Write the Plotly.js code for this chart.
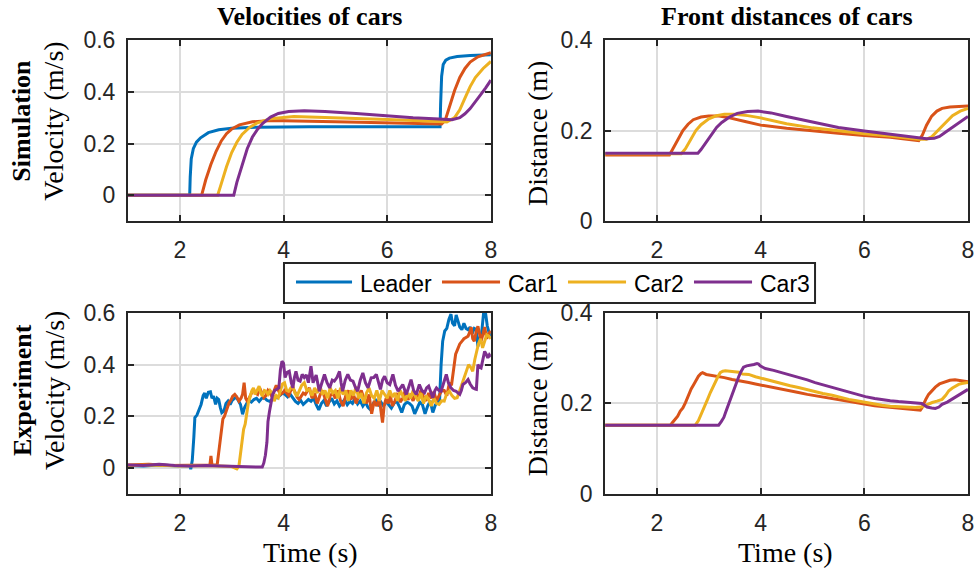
<!DOCTYPE html>
<html>
<head>
<meta charset="utf-8">
<script src="https://cdn.plot.ly/plotly-3.0.1.min.js"></script>
<style>html,body{margin:0;padding:0;background:#fff;}#chart{width:976px;height:578px;}</style>
</head>
<body>
<div id="chart"></div>
<script>
// ---------- Series names & colours ----------
const seriesNames = ['Leader', 'Car1', 'Car2', 'Car3'];
const seriesColors = ['#0072BD', '#D95319', '#EDB120', '#7E2F8E'];
const xTicks = [2, 4, 6, 8];

// ---------- Simulation: velocities (m/s) ----------
const simVelLeaderT = [1, 2.19, 2.20, 2.22, 2.26, 2.32, 2.40, 2.55, 2.75, 3.0, 3.5, 4.5, 6.0, 7.02, 7.03, 7.05, 7.08, 7.13, 7.2, 7.35, 7.6, 8.0];
const simVelLeader  = [0, 0, 0.07, 0.14, 0.18, 0.205, 0.222, 0.242, 0.253, 0.259, 0.263, 0.265, 0.265, 0.265, 0.35, 0.46, 0.505, 0.522, 0.53, 0.536, 0.54, 0.543];
const simVelCar1T = [1, 2.42, 2.5, 2.6, 2.7, 2.8, 2.9, 3.0, 3.15, 3.4, 3.7, 4.0, 5.0, 6.0, 7.05, 7.12, 7.2, 7.3, 7.4, 7.5, 7.6, 7.75, 8.0];
const simVelCar1  = [0, 0, 0.06, 0.12, 0.17, 0.21, 0.238, 0.256, 0.272, 0.284, 0.288, 0.288, 0.284, 0.279, 0.275, 0.29, 0.34, 0.405, 0.455, 0.49, 0.515, 0.535, 0.551];
const simVelCar2T = [1, 2.73, 2.8, 2.9, 3.0, 3.1, 3.2, 3.35, 3.5, 3.75, 4.2, 5.0, 6.0, 7.0, 7.15, 7.3, 7.4, 7.5, 7.6, 7.7, 7.85, 8.0];
const simVelCar2  = [0, 0, 0.045, 0.11, 0.165, 0.205, 0.235, 0.263, 0.28, 0.296, 0.304, 0.3, 0.293, 0.285, 0.283, 0.3, 0.33, 0.375, 0.42, 0.455, 0.49, 0.517];
const simVelCar3T = [1, 3.04, 3.1, 3.2, 3.3, 3.4, 3.5, 3.6, 3.75, 3.9, 4.1, 4.4, 4.8, 5.4, 6.0, 6.5, 7.0, 7.25, 7.4, 7.5, 7.6, 7.7, 7.8, 7.9, 8.0];
const simVelCar3  = [0, 0, 0.05, 0.12, 0.18, 0.225, 0.255, 0.278, 0.302, 0.316, 0.324, 0.327, 0.324, 0.316, 0.307, 0.3, 0.295, 0.292, 0.3, 0.315, 0.335, 0.36, 0.388, 0.415, 0.445];

// ---------- Simulation: front distances (m) ----------
const simDistCar1T = [1, 2.24, 2.3, 2.4, 2.5, 2.6, 2.7, 2.85, 3.0, 3.2, 3.4, 3.7, 4.0, 4.5, 5.0, 5.5, 6.0, 6.5, 7.05, 7.12, 7.2, 7.3, 7.4, 7.5, 7.65, 7.8, 8.0];
const simDistCar1  = [0.146, 0.146, 0.158, 0.18, 0.2, 0.214, 0.224, 0.23, 0.232, 0.232, 0.228, 0.22, 0.212, 0.205, 0.199, 0.194, 0.189, 0.185, 0.178, 0.19, 0.212, 0.232, 0.243, 0.249, 0.252, 0.253, 0.254];
const simDistCar2T = [1, 2.47, 2.55, 2.65, 2.75, 2.85, 3.0, 3.15, 3.3, 3.5, 3.75, 4.0, 4.5, 5.0, 5.5, 6.0, 6.5, 7.05, 7.2, 7.3, 7.4, 7.5, 7.6, 7.7, 7.85, 8.0];
const simDistCar2  = [0.149, 0.149, 0.16, 0.18, 0.2, 0.213, 0.226, 0.233, 0.236, 0.236, 0.233, 0.228, 0.215, 0.206, 0.199, 0.193, 0.188, 0.181, 0.181, 0.186, 0.198, 0.21, 0.222, 0.233, 0.243, 0.249];
const simDistCar3T = [1, 2.79, 2.85, 2.95, 3.05, 3.15, 3.25, 3.4, 3.55, 3.75, 3.95, 4.2, 4.5, 5.0, 5.5, 6.0, 6.5, 7.0, 7.2, 7.35, 7.45, 7.55, 7.7, 7.85, 8.0];
const simDistCar3  = [0.15, 0.15, 0.158, 0.174, 0.192, 0.207, 0.218, 0.23, 0.238, 0.242, 0.243, 0.239, 0.231, 0.219, 0.207, 0.199, 0.192, 0.185, 0.182, 0.183, 0.187, 0.195, 0.207, 0.219, 0.231];

// ---------- Experiment: velocities (m/s) ----------
const expVelLeaderT = [1, 1.3, 1.6, 1.9, 2.1, 2.2, 2.21, 2.24, 2.27, 2.29, 2.33, 2.37, 2.41, 2.45, 2.48, 2.51, 2.55, 2.59, 2.62, 2.65, 2.69, 2.72, 2.75, 2.78, 2.81, 2.85, 2.89, 2.93, 2.97, 3.01, 3.05, 3.09, 3.13, 3.17, 3.21, 3.25, 3.29, 3.33, 3.38, 3.43, 3.48, 3.53, 3.58, 3.63, 3.68, 3.73, 3.78, 3.83, 3.88, 3.93, 3.98, 4.03, 4.08, 4.13, 4.18, 4.23, 4.28, 4.33, 4.38, 4.43, 4.48, 4.53, 4.58, 4.63, 4.68, 4.73, 4.78, 4.83, 4.88, 4.93, 4.98, 5.03, 5.08, 5.13, 5.18, 5.23, 5.28, 5.33, 5.38, 5.43, 5.48, 5.53, 5.58, 5.63, 5.68, 5.73, 5.78, 5.83, 5.88, 5.93, 5.98, 6.03, 6.08, 6.13, 6.18, 6.23, 6.28, 6.33, 6.38, 6.43, 6.48, 6.53, 6.58, 6.63, 6.68, 6.73, 6.78, 6.83, 6.88, 6.93, 6.98, 7.01, 7.04, 7.07, 7.11, 7.15, 7.19, 7.23, 7.26, 7.3, 7.33, 7.36, 7.4, 7.44, 7.48, 7.52, 7.56, 7.6, 7.64, 7.68, 7.72, 7.75, 7.78, 7.82, 7.86, 7.9, 7.93, 7.97, 8.0];
const expVelLeader  = [0.01, 0.008, 0.012, 0.009, 0.01, 0.008, -0.004, 0.03, 0.12, 0.195, 0.205, 0.225, 0.246, 0.28, 0.29, 0.27, 0.293, 0.295, 0.27, 0.278, 0.246, 0.27, 0.265, 0.235, 0.214, 0.22, 0.25, 0.259, 0.246, 0.262, 0.268, 0.275, 0.26, 0.246, 0.208, 0.235, 0.25, 0.262, 0.255, 0.265, 0.27, 0.258, 0.27, 0.272, 0.262, 0.258, 0.265, 0.275, 0.272, 0.28, 0.29, 0.285, 0.275, 0.285, 0.27, 0.258, 0.25, 0.262, 0.246, 0.255, 0.265, 0.258, 0.27, 0.245, 0.225, 0.25, 0.262, 0.24, 0.255, 0.27, 0.248, 0.26, 0.24, 0.255, 0.265, 0.245, 0.258, 0.25, 0.27, 0.248, 0.26, 0.24, 0.255, 0.235, 0.225, 0.25, 0.262, 0.245, 0.255, 0.24, 0.258, 0.245, 0.232, 0.25, 0.26, 0.24, 0.215, 0.245, 0.255, 0.25, 0.24, 0.21, 0.235, 0.255, 0.245, 0.21, 0.24, 0.26, 0.215, 0.245, 0.255, 0.26, 0.4, 0.49, 0.53, 0.54, 0.575, 0.595, 0.56, 0.55, 0.592, 0.57, 0.545, 0.535, 0.56, 0.54, 0.535, 0.545, 0.52, 0.54, 0.535, 0.47, 0.5, 0.52, 0.6, 0.595, 0.55, 0.52, 0.51];

const expVelCar1T = [1, 1.4, 1.8, 2.2, 2.5, 2.58, 2.6, 2.62, 2.72, 2.75, 2.77, 2.79, 2.81, 2.83, 2.86, 2.89, 2.92, 2.95, 2.99, 3.02, 3.06, 3.1, 3.14, 3.18, 3.21, 3.24, 3.27, 3.3, 3.34, 3.38, 3.42, 3.46, 3.5, 3.54, 3.58, 3.62, 3.66, 3.7, 3.74, 3.78, 3.82, 3.86, 3.9, 3.94, 3.98, 4.02, 4.06, 4.1, 4.14, 4.18, 4.22, 4.26, 4.3, 4.34, 4.38, 4.42, 4.46, 4.5, 4.55, 4.6, 4.65, 4.7, 4.75, 4.8, 4.85, 4.9, 4.95, 5.0, 5.05, 5.1, 5.15, 5.2, 5.25, 5.3, 5.35, 5.4, 5.45, 5.5, 5.55, 5.6, 5.65, 5.7, 5.75, 5.8, 5.85, 5.88, 5.91, 5.94, 5.98, 6.02, 6.06, 6.1, 6.15, 6.2, 6.25, 6.3, 6.35, 6.4, 6.45, 6.5, 6.55, 6.6, 6.65, 6.7, 6.75, 6.8, 6.85, 6.9, 6.95, 7.0, 7.05, 7.1, 7.15, 7.2, 7.24, 7.28, 7.32, 7.36, 7.4, 7.44, 7.48, 7.52, 7.56, 7.6, 7.62, 7.65, 7.68, 7.72, 7.75, 7.78, 7.81, 7.85, 7.88, 7.92, 7.96, 8.0];
const expVelCar1  = [0.012, 0.015, 0.01, 0.012, 0.012, 0.012, 0.047, 0.012, 0.012, 0.06, 0.1, 0.13, 0.155, 0.19, 0.2, 0.22, 0.235, 0.253, 0.265, 0.278, 0.285, 0.275, 0.259, 0.27, 0.285, 0.33, 0.27, 0.259, 0.272, 0.29, 0.305, 0.29, 0.285, 0.31, 0.29, 0.272, 0.28, 0.3, 0.29, 0.275, 0.3, 0.32, 0.3, 0.285, 0.29, 0.3, 0.29, 0.28, 0.3, 0.31, 0.295, 0.275, 0.265, 0.28, 0.29, 0.285, 0.3, 0.31, 0.27, 0.29, 0.25, 0.28, 0.3, 0.265, 0.24, 0.28, 0.29, 0.27, 0.3, 0.26, 0.24, 0.28, 0.3, 0.265, 0.285, 0.25, 0.28, 0.3, 0.27, 0.25, 0.285, 0.21, 0.26, 0.24, 0.27, 0.22, 0.176, 0.24, 0.27, 0.25, 0.28, 0.24, 0.26, 0.29, 0.255, 0.27, 0.3, 0.265, 0.28, 0.26, 0.29, 0.27, 0.3, 0.275, 0.26, 0.29, 0.27, 0.295, 0.26, 0.28, 0.3, 0.3, 0.28, 0.33, 0.32, 0.38, 0.44, 0.46, 0.48, 0.49, 0.5, 0.505, 0.51, 0.53, 0.545, 0.5, 0.49, 0.53, 0.548, 0.52, 0.49, 0.52, 0.545, 0.5, 0.52, 0.53];

const expVelCar2T = [1, 1.5, 2.0, 2.5, 3.0, 3.1, 3.14, 3.17, 3.2, 3.23, 3.26, 3.29, 3.32, 3.35, 3.39, 3.42, 3.45, 3.49, 3.53, 3.56, 3.59, 3.63, 3.66, 3.7, 3.74, 3.78, 3.82, 3.86, 3.9, 3.94, 3.98, 4.02, 4.06, 4.1, 4.14, 4.18, 4.22, 4.26, 4.3, 4.35, 4.4, 4.45, 4.5, 4.55, 4.6, 4.65, 4.7, 4.75, 4.8, 4.85, 4.9, 4.95, 5.0, 5.05, 5.1, 5.15, 5.2, 5.25, 5.3, 5.35, 5.4, 5.45, 5.5, 5.55, 5.6, 5.65, 5.7, 5.75, 5.8, 5.85, 5.9, 5.95, 6.0, 6.05, 6.1, 6.15, 6.2, 6.25, 6.3, 6.35, 6.4, 6.45, 6.5, 6.55, 6.6, 6.65, 6.7, 6.75, 6.8, 6.85, 6.9, 6.95, 7.0, 7.05, 7.1, 7.15, 7.2, 7.25, 7.3, 7.35, 7.4, 7.45, 7.49, 7.53, 7.57, 7.61, 7.65, 7.69, 7.72, 7.76, 7.8, 7.84, 7.88, 7.92, 7.96, 8.0];
const expVelCar2  = [0.01, 0.012, 0.008, 0.01, 0.006, -0.003, 0.008, 0.05, 0.11, 0.15, 0.17, 0.22, 0.25, 0.272, 0.3, 0.31, 0.285, 0.3, 0.317, 0.29, 0.278, 0.3, 0.297, 0.285, 0.3, 0.29, 0.259, 0.28, 0.272, 0.3, 0.325, 0.33, 0.3, 0.297, 0.31, 0.317, 0.29, 0.278, 0.3, 0.32, 0.33, 0.3, 0.304, 0.28, 0.31, 0.29, 0.32, 0.285, 0.3, 0.27, 0.31, 0.29, 0.3, 0.27, 0.31, 0.285, 0.3, 0.26, 0.3, 0.28, 0.315, 0.27, 0.29, 0.25, 0.29, 0.31, 0.28, 0.27, 0.3, 0.26, 0.3, 0.285, 0.27, 0.3, 0.275, 0.29, 0.26, 0.3, 0.28, 0.26, 0.29, 0.27, 0.3, 0.275, 0.26, 0.29, 0.25, 0.28, 0.265, 0.24, 0.27, 0.25, 0.246, 0.26, 0.259, 0.29, 0.297, 0.28, 0.27, 0.272, 0.3, 0.33, 0.355, 0.37, 0.4, 0.39, 0.374, 0.42, 0.45, 0.48, 0.5, 0.465, 0.49, 0.515, 0.51, 0.5];

const expVelCar3T = [1, 1.3, 1.6, 1.9, 2.2, 2.5, 2.8, 3.1, 3.4, 3.59, 3.62, 3.65, 3.68, 3.7, 3.73, 3.76, 3.79, 3.83, 3.87, 3.91, 3.94, 3.97, 4.0, 4.03, 4.07, 4.11, 4.15, 4.18, 4.21, 4.24, 4.28, 4.32, 4.36, 4.4, 4.44, 4.48, 4.53, 4.57, 4.63, 4.69, 4.74, 4.79, 4.84, 4.89, 4.94, 4.98, 5.03, 5.08, 5.11, 5.14, 5.19, 5.24, 5.29, 5.34, 5.39, 5.43, 5.48, 5.53, 5.58, 5.63, 5.69, 5.74, 5.79, 5.83, 5.87, 5.91, 5.95, 6.0, 6.05, 6.11, 6.16, 6.21, 6.26, 6.3, 6.37, 6.42, 6.46, 6.51, 6.56, 6.62, 6.67, 6.72, 6.76, 6.8, 6.84, 6.88, 6.92, 6.95, 7.0, 7.04, 7.09, 7.14, 7.18, 7.23, 7.28, 7.33, 7.37, 7.4, 7.43, 7.46, 7.51, 7.56, 7.6, 7.65, 7.7, 7.72, 7.75, 7.78, 7.81, 7.85, 7.88, 7.91, 7.94, 7.97, 8.0];
const expVelCar3  = [0.012, 0.01, 0.015, 0.01, 0.008, 0.01, 0.008, 0.006, 0.005, 0.004, 0.02, 0.05, 0.1, 0.18, 0.22, 0.255, 0.285, 0.3, 0.305, 0.31, 0.38, 0.413, 0.405, 0.35, 0.37, 0.374, 0.33, 0.31, 0.35, 0.374, 0.34, 0.336, 0.362, 0.35, 0.36, 0.33, 0.394, 0.33, 0.36, 0.297, 0.33, 0.362, 0.33, 0.31, 0.34, 0.336, 0.35, 0.374, 0.33, 0.297, 0.34, 0.362, 0.34, 0.336, 0.31, 0.297, 0.34, 0.368, 0.33, 0.31, 0.349, 0.35, 0.362, 0.33, 0.304, 0.34, 0.355, 0.33, 0.323, 0.362, 0.32, 0.297, 0.31, 0.323, 0.285, 0.32, 0.342, 0.3, 0.285, 0.323, 0.3, 0.291, 0.31, 0.317, 0.29, 0.272, 0.3, 0.31, 0.3, 0.297, 0.33, 0.362, 0.33, 0.31, 0.3, 0.297, 0.29, 0.285, 0.3, 0.323, 0.33, 0.342, 0.325, 0.31, 0.305, 0.304, 0.4, 0.39, 0.387, 0.42, 0.451, 0.44, 0.426, 0.438, 0.43];

// ---------- Experiment: front distances (m) ----------
const expDistCar1T = [1, 2.26, 2.3, 2.35, 2.4, 2.45, 2.5, 2.55, 2.58, 2.61, 2.66, 2.71, 2.75, 2.8, 2.85, 2.88, 2.95, 3.0, 3.1, 3.19, 3.3, 3.45, 3.6, 3.77, 3.9, 4.09, 4.25, 4.41, 4.55, 4.73, 4.9, 5.05, 5.2, 5.38, 5.55, 5.7, 5.85, 6.02, 6.2, 6.34, 6.5, 6.66, 6.8, 6.98, 7.08, 7.11, 7.14, 7.19, 7.24, 7.3, 7.37, 7.45, 7.56, 7.65, 7.75, 7.85, 7.95, 8.0];
const expDistCar1  = [0.152, 0.152, 0.158, 0.165, 0.172, 0.183, 0.19, 0.202, 0.21, 0.22, 0.232, 0.242, 0.25, 0.26, 0.266, 0.268, 0.264, 0.263, 0.262, 0.26, 0.257, 0.253, 0.249, 0.246, 0.243, 0.239, 0.235, 0.231, 0.228, 0.224, 0.22, 0.217, 0.214, 0.211, 0.207, 0.204, 0.201, 0.198, 0.195, 0.193, 0.191, 0.189, 0.188, 0.186, 0.185, 0.19, 0.198, 0.21, 0.22, 0.228, 0.236, 0.243, 0.248, 0.251, 0.252, 0.251, 0.249, 0.248];
const expDistCar2T = [1, 2.74, 2.8, 2.84, 2.88, 2.93, 2.98, 3.03, 3.08, 3.13, 3.18, 3.22, 3.27, 3.32, 3.45, 3.58, 3.65, 3.77, 3.9, 4.09, 4.25, 4.41, 4.57, 4.73, 4.9, 5.05, 5.2, 5.38, 5.55, 5.7, 5.85, 6.02, 6.2, 6.34, 6.5, 6.66, 6.8, 6.98, 7.1, 7.14, 7.22, 7.31, 7.4, 7.5, 7.57, 7.63, 7.7, 7.76, 7.82, 7.88, 7.95, 8.0];
const expDistCar2  = [0.152, 0.152, 0.162, 0.172, 0.185, 0.198, 0.21, 0.224, 0.237, 0.25, 0.26, 0.268, 0.271, 0.272, 0.271, 0.269, 0.265, 0.264, 0.259, 0.253, 0.248, 0.244, 0.239, 0.235, 0.23, 0.226, 0.222, 0.218, 0.213, 0.209, 0.206, 0.202, 0.199, 0.196, 0.194, 0.193, 0.192, 0.191, 0.192, 0.194, 0.198, 0.202, 0.205, 0.209, 0.218, 0.228, 0.234, 0.239, 0.242, 0.244, 0.246, 0.246];
const expDistCar3T = [1, 3.19, 3.24, 3.29, 3.33, 3.38, 3.43, 3.48, 3.53, 3.58, 3.62, 3.67, 3.73, 3.8, 3.87, 3.93, 3.96, 3.99, 4.09, 4.25, 4.41, 4.57, 4.73, 4.9, 5.05, 5.2, 5.38, 5.55, 5.7, 5.85, 6.02, 6.2, 6.34, 6.5, 6.66, 6.8, 6.98, 7.11, 7.16, 7.21, 7.3, 7.37, 7.44, 7.5, 7.6, 7.69, 7.76, 7.82, 7.9, 8.0];
const expDistCar3  = [0.152, 0.152, 0.16, 0.169, 0.182, 0.198, 0.214, 0.231, 0.246, 0.26, 0.27, 0.28, 0.283, 0.284, 0.286, 0.288, 0.287, 0.283, 0.277, 0.273, 0.268, 0.263, 0.258, 0.252, 0.246, 0.241, 0.236, 0.231, 0.226, 0.22, 0.215, 0.211, 0.208, 0.206, 0.204, 0.203, 0.201, 0.2, 0.196, 0.192, 0.19, 0.189, 0.192, 0.198, 0.203, 0.209, 0.214, 0.219, 0.224, 0.231];

// ---------- Build traces ----------
const LW = 3;
function tr(x, y, idx, xa, ya) {
  return {
    x: x, y: y, type: 'scatter', mode: 'lines',
    name: seriesNames[idx], showlegend: false,
    line: {color: seriesColors[idx], width: LW},
    xaxis: xa, yaxis: ya, hoverinfo: 'skip'
  };
}
const data = [
  tr(simVelLeaderT, simVelLeader, 0, 'x', 'y'),
  tr(simVelCar1T, simVelCar1, 1, 'x', 'y'),
  tr(simVelCar2T, simVelCar2, 2, 'x', 'y'),
  tr(simVelCar3T, simVelCar3, 3, 'x', 'y'),
  tr(simDistCar1T, simDistCar1, 1, 'x2', 'y2'),
  tr(simDistCar2T, simDistCar2, 2, 'x2', 'y2'),
  tr(simDistCar3T, simDistCar3, 3, 'x2', 'y2'),
  tr(expVelLeaderT, expVelLeader, 0, 'x3', 'y3'),
  tr(expVelCar1T, expVelCar1, 1, 'x3', 'y3'),
  tr(expVelCar2T, expVelCar2, 2, 'x3', 'y3'),
  tr(expVelCar3T, expVelCar3, 3, 'x3', 'y3'),
  tr(expDistCar1T, expDistCar1, 1, 'x4', 'y4'),
  tr(expDistCar2T, expDistCar2, 2, 'x4', 'y4'),
  tr(expDistCar3T, expDistCar3, 3, 'x4', 'y4')
];

// ---------- Layout ----------
const AX = '#262626';
const sans = 'Liberation Sans, Arial, Helvetica, sans-serif';
const tickFont = {family: sans, size: 23, color: AX};
const serif = 'Liberation Serif, Times New Roman, serif';
function xax(domain, anchor) {
  return {domain: domain, anchor: anchor, range: [1, 8], tickvals: xTicks, ticktext: xTicks.map(String),
    showline: true, linecolor: AX, linewidth: 2, mirror: 'ticks', ticks: 'inside', ticklen: 6, tickwidth: 2, tickcolor: AX,
    showgrid: true, gridcolor: '#dcdcdc', gridwidth: 2, zeroline: false, tickfont: tickFont, ticklabelstandoff: 7};
}
function yax(domain, anchor, range, vals) {
  return {domain: domain, anchor: anchor, range: range, tickvals: vals, ticktext: vals.map(v => String(v)),
    showline: true, linecolor: AX, linewidth: 2, mirror: 'ticks', ticks: 'inside', ticklen: 6, tickwidth: 2, tickcolor: AX,
    showgrid: true, gridcolor: '#dcdcdc', gridwidth: 2, zeroline: false, tickfont: tickFont, ticklabelstandoff: 6};
}
const velTicks = [0, 0.2, 0.4, 0.6];
const distTicks = [0, 0.2, 0.4];
const dL = [0, 0.432], dR = [0.568, 1], dT = [0.601, 1], dB = [0, 0.399];

function ann(text, x, y, size, angle, bold) {
  return {text: bold ? '<b>' + text + '</b>' : text, x: x, y: y, xref: 'paper', yref: 'paper',
    showarrow: false, xanchor: 'center', yanchor: 'middle', textangle: angle || 0,
    font: {family: serif, size: size, color: '#000'}};
}

// ---------- Custom legend (MATLAB-style, long sample lines) ----------
const legBox = {x0: 0.1857, x1: 0.8179, y0: 0.4207, y1: 0.5088};
const legLineY = 0.4670;
const legLineX = [[0.2, 0.2667], [0.3738, 0.4429], [0.5238, 0.5929], [0.6738, 0.7429]];
const legTextX = [0.2738, 0.45, 0.6, 0.75];
const shapes = [{type: 'rect', xref: 'paper', yref: 'paper', x0: legBox.x0, x1: legBox.x1, y0: legBox.y0, y1: legBox.y1,
  line: {color: AX, width: 2}, fillcolor: '#fff', layer: 'above'}];
const legendAnns = [];
seriesNames.forEach((n, i) => {
  shapes.push({type: 'line', xref: 'paper', yref: 'paper', x0: legLineX[i][0], x1: legLineX[i][1], y0: legLineY, y1: legLineY,
    line: {color: seriesColors[i], width: 3}, layer: 'above'});
  legendAnns.push({text: n, x: legTextX[i], y: 0.4626, xref: 'paper', yref: 'paper', showarrow: false,
    xanchor: 'left', yanchor: 'middle', font: {family: sans, size: 23, color: '#000'}});
});

const layout = {
  width: 976, height: 578,
  margin: {l: 128, r: 8, t: 40, b: 84},
  paper_bgcolor: '#fff', plot_bgcolor: '#fff',
  showlegend: false,
  xaxis: xax(dL, 'y'), yaxis: yax(dT, 'x', [-0.1, 0.6], velTicks),
  xaxis2: xax(dR, 'y2'), yaxis2: yax(dT, 'x2', [0, 0.4], distTicks),
  xaxis3: xax(dL, 'y3'), yaxis3: yax(dB, 'x3', [-0.1, 0.6], velTicks),
  xaxis4: xax(dR, 'y4'), yaxis4: yax(dB, 'x4', [0, 0.4], distTicks),
  shapes: shapes,
  annotations: [
    ann('Velocities of cars', 0.216, 1.0507, 26, 0, true),
    ann('Front distances of cars', 0.784, 1.0507, 26, 0, true),
    ann('Simulation', -0.1262, 0.822, 26, -90, true),
    ann('Velocity (m/s)', -0.0881, 0.822, 28, -90, false),
    ann('Experiment', -0.1262, 0.229, 26, -90, true),
    ann('Velocity (m/s)', -0.0881, 0.229, 28, -90, false),
    ann('Distance (m)', 0.4869, 0.795, 28, -90, false),
    ann('Distance (m)', 0.4869, 0.2, 28, -90, false),
    ann('Time (s)', 0.2167, -0.1278, 28, 0, false),
    ann('Time (s)', 0.7833, -0.1278, 28, 0, false)
  ].concat(legendAnns)
};

Plotly.newPlot('chart', data, layout, {staticPlot: true, displayModeBar: false});
</script>
</body>
</html>
